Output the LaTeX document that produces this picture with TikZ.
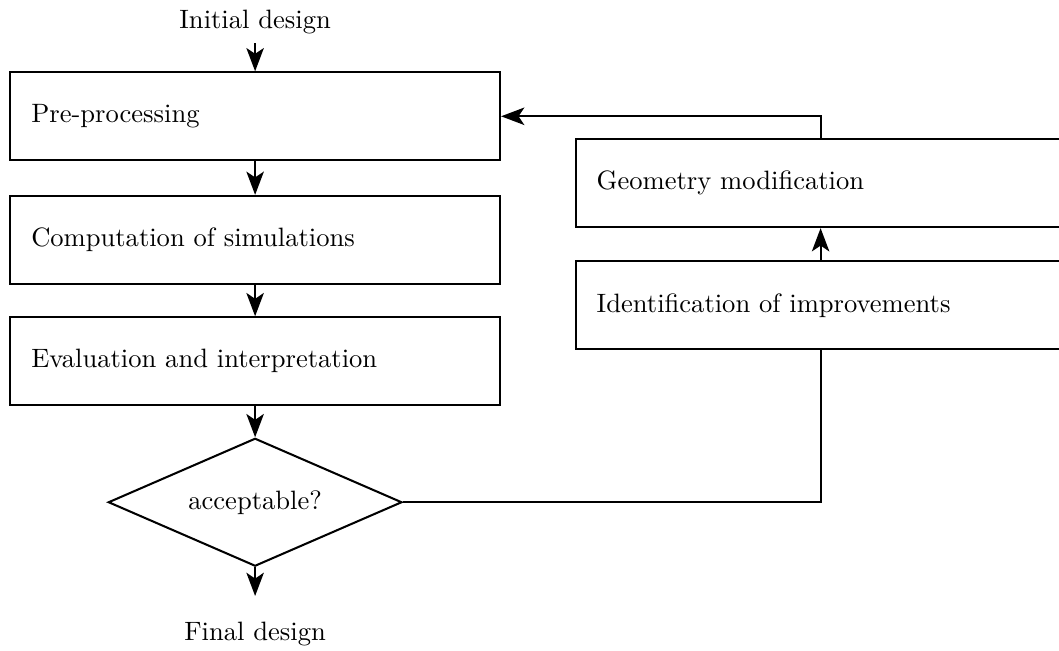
\documentclass[tikz,border=0pt]{standalone}
\usetikzlibrary{shapes.geometric,arrows.meta}
\begin{document}
\begin{tikzpicture}
    [thick,
    font = \fontsize{10.4pt}{12.5pt}\selectfont,
    >={Stealth[length=3.2mm,width=2.4mm,inset=0.8mm]},
    block/.style = {draw, rectangle,
                    minimum width = 6.74cm,
                    minimum height = 1.21cm,
                    text width = 6.16cm,
                    align = left},
    decision/.style = {draw, diamond,
                    aspect = 2.3,
                    minimum width = 4.04cm,
                    minimum height = 1.76cm,
                    inner sep = 0pt}]
    \useasboundingbox (0,0) rectangle (14.57,-8.955);
    % Entrada
    \node (start) at (3.51,-0.30) {Initial design};
    % Bloques principales
    \node[block] (pre) at (3.51,-1.60) {Pre-processing};
    \node[block] (comp) at (3.51,-3.30) {Computation of simulations};
    \node[block] (eval) at (3.51,-4.97) {Evaluation and interpretation};
    \node[decision] (dec) at (3.51,-6.91) {acceptable?};
    % Salida
    \coordinate (out) at (3.51,-8.20);
    \node (final) at (3.51,-8.72) {Final design};
    % Bucle de mejora
    \node[block] (geo) at (11.29,-2.52) {Geometry modification};
    \node[block] (ident) at (11.29,-4.20) {Identification of improvements};
    % Flechas
    \draw[->] (start) -- (pre);
    \draw[->] (pre) -- (comp);
    \draw[->] (comp) -- (eval);
    \draw[->] (eval) -- (dec);
    \draw[->] (dec) -- (out);
    \draw (dec.east) -| (ident.south);
    \draw[->] (ident) -- (geo);
    \draw[->] (geo.north) |- (pre.east);
\end{tikzpicture}
\end{document}
